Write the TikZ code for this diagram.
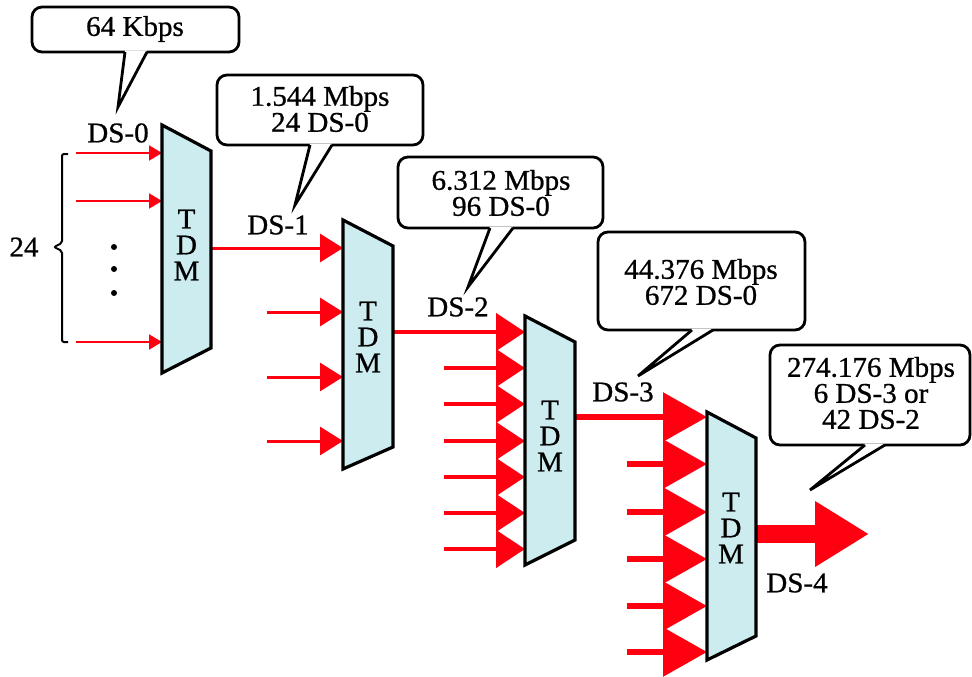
\documentclass[tikz,border=0pt]{standalone}
\usepackage{fontspec}
\setmainfont{Liberation Serif}[FakeStretch=1.02, FakeBold=0.8]
\usetikzlibrary{arrows.meta}
\definecolor{tdmfill}{RGB}{204,236,240}
\definecolor{sigred}{RGB}{255,0,16}
\begin{document}
\begin{tikzpicture}[x=1pt,y=-1pt,
  lbl/.style={font=\fontsize{28.5}{26}\selectfont, inner sep=0pt, align=center},
  tdmbox/.style={draw=black, line width=3.2pt, fill=tdmfill, line join=miter},
  callout/.style={draw=black, line width=2.8pt},
  sigA/.style={draw=sigred, line width=2pt, -{Triangle[length=13pt,width=15pt]}},
  sigB/.style={draw=sigred, line width=3pt, -{Triangle[length=23pt,width=28pt]}},
  sigC/.style={draw=sigred, line width=4.5pt, -{Triangle[length=29pt,width=37pt]}},
  sigD/.style={draw=sigred, line width=6pt, -{Triangle[length=44pt,width=48pt]}},
  sigE/.style={draw=sigred, line width=18pt, -{Triangle[length=54pt,width=62pt]}}
]
\useasboundingbox (0,0) rectangle (972,677);

% ---------- callouts ----------
\foreach \xa/\ya/\xb/\yb/\ba/\bb/\tx/\ty in {
  32/7/239/52/125/147/118/107,
  217/75/423/145/310/332/295/205,
  398/157/603/228/490/513/468/287,
  598/232/805/330/692/713/638/376,
  770/345/970/445/865/885/810/490}{
  \filldraw[callout, fill=white, rounded corners=10pt] (\xa,\ya) rectangle (\xb,\yb);
  \fill[white] (\ba,\yb-1.5) -- (\tx,\ty) -- (\bb,\yb-1.5) -- cycle;
  \draw[callout] (\ba,\yb) -- (\tx,\ty) -- (\bb,\yb);
}
\node[lbl] (c1) at (135,29) {64 Kbps};
\node[lbl] (c2) at (320,109) {1.544 Mbps\\24 DS-0};
\node[lbl] (c3) at (501,193) {6.312 Mbps\\96 DS-0};
\node[lbl] (c4) at (701,282) {44.376 Mbps\\672 DS-0};
\node[lbl] (c5) at (871,393) {274.176 Mbps\\6 DS-3 or\\42 DS-2};

% ---------- stage labels ----------
\node[lbl] (ds0) at (118,133) {DS-0};
\node[lbl] (ds1) at (278,225) {DS-1};
\node[lbl] (ds2) at (458,307) {DS-2};
\node[lbl] (ds3) at (623,392) {DS-3};
\node[lbl] (ds4) at (797,583) {DS-4};
\node[lbl] (n24) at (24,247) {24};

% ---------- brace and dots ----------
\draw[line width=2pt, rounded corners=2pt] (68,154) -- (62,154) -- (62,243) -- (54,247) -- (62,251) -- (62,342) -- (68,342);
\foreach \yy in {247,269,293} \fill (114,\yy) circle (3pt);

% ---------- coordinates ----------
\foreach \i/\yy in {1/153,2/201,3/342} {
  \coordinate (a\i s) at (76,\yy); \coordinate (a\i e) at (162,\yy);}
\foreach \i/\yy in {2/312,3/377,4/441} {
  \coordinate (b\i s) at (267,\yy); \coordinate (b\i e) at (343,\yy);}
\foreach \i/\yy in {2/368,3/404,4/441,5/477,6/513,7/549} {
  \coordinate (c\i s) at (444,\yy); \coordinate (c\i e) at (525,\yy);}
\foreach \i/\yy in {2/464,3/512,4/559,5/606,6/652} {
  \coordinate (d\i s) at (627,\yy); \coordinate (d\i e) at (707,\yy);}
\coordinate (o1s) at (211,248); \coordinate (o1e) at (343,248);
\coordinate (o2s) at (393,332); \coordinate (o2e) at (525,332);
\coordinate (o3s) at (575,417); \coordinate (o3e) at (707,417);
\coordinate (o4s) at (756,534); \coordinate (o4e) at (869,534);

% ---------- signals ----------
\foreach \i in {1,2,3} \draw[sigA] (a\i s) -- (a\i e);
\draw[sigB] (o1s) -- (o1e);
\foreach \i in {2,3,4} \draw[sigB] (b\i s) -- (b\i e);
\draw[sigC] (o2s) -- (o2e);
\foreach \i in {2,...,7} \draw[sigC] (c\i s) -- (c\i e);
\draw[sigD] (o3s) -- (o3e);
\foreach \i in {2,...,6} \draw[sigD] (d\i s) -- (d\i e);
\draw[sigE] (o4s) -- (o4e);

% ---------- TDM blocks ----------
\draw[tdmbox] (162,125) -- (211,151) -- (211,348) -- (162,373) -- cycle;
\draw[tdmbox] (343,220) -- (393,246) -- (393,447) -- (343,469) -- cycle;
\draw[tdmbox] (525,316) -- (575,342) -- (575,540) -- (525,565) -- cycle;
\draw[tdmbox] (707,412) -- (756,438) -- (756,636) -- (707,660) -- cycle;
\node[lbl] (m1) at (186.5,245) {T\\D\\M};
\node[lbl] (m2) at (368,337) {T\\D\\M};
\node[lbl] (m3) at (550,436) {T\\D\\M};
\node[lbl] (m4) at (731,528) {T\\D\\M};
\end{tikzpicture}
\end{document}
